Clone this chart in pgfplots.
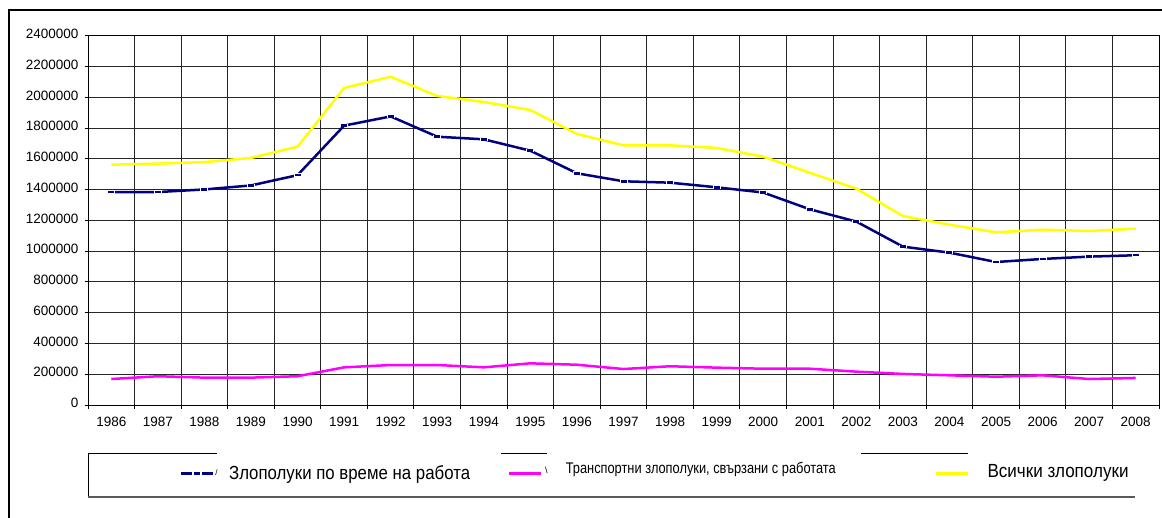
\documentclass[border=0pt]{standalone}
\usepackage{pgfplots}
\pgfplotsset{compat=1.18}
\usepackage{fontspec}
\setmainfont{Liberation Sans}
\usepackage{graphicx}

\definecolor{navyc}{HTML}{000080}
\definecolor{magc}{HTML}{FF00FF}
\definecolor{yelc}{HTML}{FFFF00}

\pgfdeclareplotmark{wdash}{%
  \pgfsetfillcolor{white}%
  \pgfpathrectangle{\pgfqpoint{-4pt}{-1.8pt}}{\pgfqpoint{8pt}{3.6pt}}%
  \pgfusepathqfill
  \pgfpathmoveto{\pgfqpoint{-3pt}{0pt}}%
  \pgfpathlineto{\pgfqpoint{3pt}{0pt}}%
  \pgfusepathqstroke}

\pgfplotstableread{
x blue mag yel
0.5 1385000 169000 1563000
1.5 1385000 187000 1570000
2.5 1402000 178000 1580000
3.5 1428000 178000 1607000
4.5 1495000 187000 1680000
5.5 1817000 245000 2062000
6.5 1877000 260000 2135000
7.5 1745000 260000 2010000
8.5 1728000 245000 1971000
9.5 1654000 271000 1919000
10.5 1507000 262000 1763000
11.5 1455000 234000 1689000
12.5 1446000 252000 1689000
13.5 1416000 243000 1672000
14.5 1382000 236000 1615000
15.5 1273000 236000 1511000
16.5 1193000 217000 1407000
17.5 1030000 202000 1229000
18.5 991000 193000 1173000
19.5 930000 184000 1123000
20.5 950000 193000 1140000
21.5 965000 169000 1132000
22.5 974000 176000 1147000
}\datatable

\begin{document}
\begin{tikzpicture}
\path[use as bounding box] (0pt,0pt) rectangle (1162pt,517pt);
% outer frame
\draw[black, line width=1.2pt] (9pt,-2pt) -- (9pt,507pt) -- (1164pt,507pt);
% legend frame
\draw[black, line width=1pt] (88pt,64pt) -- (88pt,20pt);
\draw[black!65, line width=1.6pt] (88pt,20pt) -- (1135pt,20pt);
\draw[black, line width=1pt] (88pt,64pt) -- (217pt,64pt);
\draw[black, line width=1pt] (501pt,64pt) -- (547pt,64pt);
\draw[black, line width=1pt] (861pt,64pt) -- (968pt,64pt);
\begin{axis}[
  at={(88pt,112pt)}, anchor=south west,
  scale only axis, width=1071pt, height=369pt,
  xmin=0, xmax=23, ymin=0, ymax=2400000,
  xtick={0,1,...,23}, x tick label as interval,
  xticklabels={1986,1987,1988,1989,1990,1991,1992,1993,1994,1995,1996,1997,1998,1999,2000,2001,2002,2003,2004,2005,2006,2007,2008},
  ytick={0,200000,400000,600000,800000,1000000,1200000,1400000,1600000,1800000,2000000,2200000,2400000},
  scaled y ticks=false,
  /pgf/number format/assume math mode=true,
  /pgf/number format/fixed,
  /pgf/number format/1000 sep={},
  /pgf/number format/precision=0,
  tick label style={font=\fontsize{13.5}{16}\selectfont, black},
  yticklabel style={xshift=-2.5pt, yshift=2pt},
  xticklabel style={yshift=-5pt},
  grid=major, grid style={black!85, line width=1pt},
  axis line style={black, line width=1pt},
  tick align=outside, tick pos=left, major tick length=3.5pt,
  tick style={black, line width=1pt},
  legend columns=3,
  legend style={at={(axis description cs:0.0859,-0.172)}, anchor=west,
    draw=none, fill=none, inner sep=0pt, outer sep=0pt,
    /tikz/every even column/.append style={column sep=0pt},
    /tikz/every odd column/.append style={column sep=0pt}},
  legend style={cells={anchor=base west}},
]
\addplot[navyc, line width=2.5pt, mark=wdash, mark options={solid},
  legend image code/.code={%
    \draw[navyc, line width=2.4pt] (0pt,0pt) -- (32pt,0pt);
    \fill[white] (12pt,-1.8pt) rectangle (20pt,1.8pt);
    \draw[navyc, line width=2.4pt] (13pt,0pt) -- (19pt,0pt);}]
  table[x=x, y=blue] {\datatable};
\addlegendentry{\raisebox{-6pt}{\makebox[289.3pt][l]{\rlap{\hspace{-1pt}\raisebox{4pt}{\fontsize{8}{8}\selectfont /}}\hspace{12.7pt}\resizebox{241pt}{\height}{\fontsize{19}{22}\selectfont Злополуки по време на работа}}}}
\addplot[magc, line width=2.5pt,
  legend image code/.code={%
    \draw[magc, line width=2.4pt] (0pt,0pt) -- (32pt,0pt);}]
  table[x=x, y=mag] {\datatable};
\addlegendentry{\makebox[388.3pt][l]{\rlap{\hspace{1pt}{\fontsize{9}{9}\selectfont \textbackslash}}\hspace{21.7pt}\resizebox{270pt}{\height}{\fontsize{15.4}{18}\selectfont Транспортни злополуки, свързани с работата}}}
\addplot[yelc, line width=2.5pt,
  legend image code/.code={%
    \draw[yelc, line width=2.4pt] (0pt,0pt) -- (32pt,0pt);}]
  table[x=x, y=yel] {\datatable};
\addlegendentry{\raisebox{-3.7pt}{\makebox[154.3pt][l]{\hspace{16.7pt}\resizebox{141pt}{\height}{\fontsize{19}{22}\selectfont Всички злополуки}}}}
\end{axis}
\end{tikzpicture}
\end{document}
